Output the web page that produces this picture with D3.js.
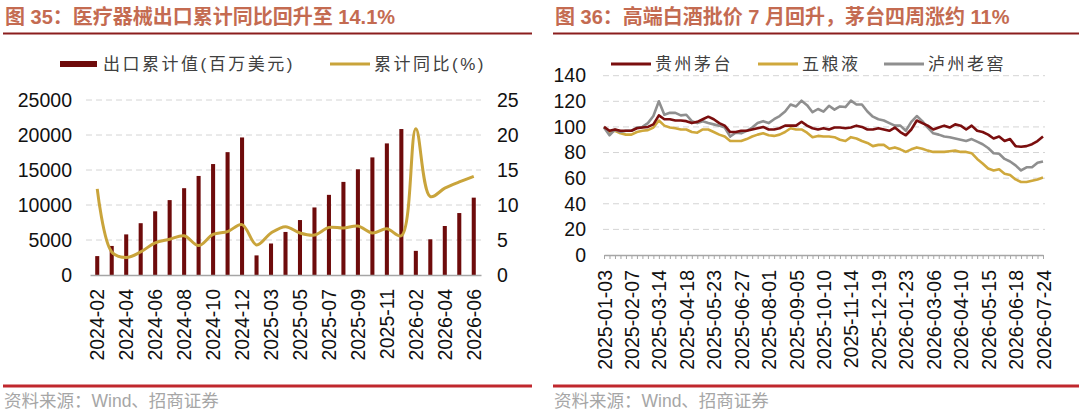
<!DOCTYPE html>
<html>
<head>
<meta charset="utf-8">
<script src="https://cdn.jsdelivr.net/npm/d3@7"></script>
<style>
  body { margin: 0; background: #fff; }
  svg { display: block; }
  text { font-family: "Liberation Sans", Arial, "Noto Sans CJK SC", sans-serif; }
  .cn { font-family: "Liberation Sans", "Noto Sans CJK SC", sans-serif; }
</style>
</head>
<body>
<div id="chart"></div>
<script>
// ---- data: 图35 医疗器械出口
const months = [
  "2024-02", "2024-03", "2024-04", "2024-05", "2024-06", "2024-07", "2024-08",
  "2024-09", "2024-10", "2024-11", "2024-12",
  "2025-02", "2025-03", "2025-04", "2025-05", "2025-06", "2025-07", "2025-08",
  "2025-09", "2025-10", "2025-11", "2025-12",
  "2026-02", "2026-03", "2026-04", "2026-05", "2026-06"
];
const exportValues = [
  2700, 4150, 5800, 7400, 9100, 10700, 12400, 14150, 15850, 17550, 19650,
  2800, 4500, 6150, 7850, 9650, 11450, 13300, 15100, 16800, 18800, 20850,
  3450, 5100, 7000, 8850, 11050
];
const exportYoY = [
  12.3, 3.3, 2.5, 3.3, 4.6, 5.1, 5.6, 4.2, 5.8, 6.2, 7.2,
  4.3, 6.0, 6.9, 6.0, 5.7, 6.8, 6.7, 7.0, 6.0, 6.6, 5.6,
  20.9, 11.2, 12.4, 13.3, 14.1
];
const leftTicks = [0, 5000, 10000, 15000, 20000, 25000];
const rightTicks = [0, 5, 10, 15, 20, 25];

// ---- data: 图36 高端白酒批价
const dateLabels = [
  "2025-01-03", "2025-02-07", "2025-03-14", "2025-04-18", "2025-05-23",
  "2025-06-27", "2025-08-01", "2025-09-05", "2025-10-10", "2025-11-14",
  "2025-12-19", "2026-01-23", "2026-03-06", "2026-04-10", "2026-05-15",
  "2026-06-18", "2026-07-24"
];
const moutai = [
  100, 97, 98, 97, 97, 97, 99, 99.5, 100, 102,
  109, 106, 106, 105, 105, 104.5, 103, 104, 106, 108,
  106, 103, 101, 96, 96, 97, 97, 98, 99, 100,
  98, 98, 99, 101, 101, 101, 104, 101, 99, 98,
  99, 98, 99.5, 99.5, 99, 99.5, 101, 100, 98, 98,
  99, 98, 97, 99.5, 96, 93.5, 98, 105, 103, 101,
  98, 99.5, 101, 99.5, 102, 101, 98, 101, 97, 96,
  94, 91, 92.5, 89, 90.5, 85, 84.5, 85, 86.5, 89,
  92.5
];
const wuliangye = [
  99.5, 96, 97, 95, 94, 94, 96, 97, 97.5, 99.5,
  105, 101, 99.5, 99, 98, 98, 96, 95.5, 98, 98,
  96, 94, 92.5, 89, 89, 89, 90.5, 92.5, 94, 95,
  93.5, 93, 94, 96, 99, 98, 98, 95.5, 92, 93,
  92.5, 92.5, 92, 90, 89, 92, 91, 89, 87.5, 85,
  86, 86, 83, 84, 82.5, 80.5, 82.5, 84, 83, 81.5,
  80.5, 80.5, 80.5, 81, 81.5, 80.5, 80.5, 79.5, 75, 71.5,
  67.5, 66, 67, 63.5, 62.5, 59, 57, 57, 58, 59,
  60.5
];
const luzhou = [
  99.5, 93.5, 98, 96, 97, 97, 99.5, 100, 103, 108.5,
  120, 109.5, 111, 111, 109, 109.5, 104.5, 103, 104.5, 103,
  102, 101, 99.5, 92.5, 95.5, 95, 97, 99.5, 103, 104.5,
  103, 106, 108.5, 112, 117.5, 116, 120.5, 117, 111.5, 114,
  112, 116.5, 113.5, 116, 115.5, 120.5, 117.5, 117.5, 112, 108,
  106, 105, 103, 101, 101, 97, 104, 108.5, 104.5, 99.5,
  95, 94, 92.5, 92, 91, 90, 89, 90.5, 88.5, 86.5,
  83.5, 79.5, 79, 75, 73, 70, 66, 68.5, 68.5, 72,
  73
];
const priceTicks = [0, 20, 40, 60, 80, 100, 120, 140];
const seriesNames = ["贵州茅台", "五粮液", "泸州老窖"];

const titleColor = "#C46B51";
const barColor = "#6E0B0B";
const goldColor = "#C9A43B";
const seriesColors = ["#7A0E0E", "#CFA83C", "#8F8F8F"];
const gridColor = "#D4D4D4";

const svg = d3
  .select("#chart")
  .append("svg")
  .attr("width", 1080)
  .attr("height", 411);

// ---- panel frames: title, rules, source
function panelFrame(x0, x1, title) {
  svg
    .append("text")
    .attr("class", "cn")
    .attr("x", x0 + 2)
    .attr("y", 24)
    .attr("font-size", "20px")
    .attr("font-weight", "bold")
    .attr("fill", titleColor)
    .text(title);

  svg
    .append("line")
    .attr("x1", x0)
    .attr("x2", x1)
    .attr("y1", 33.5)
    .attr("y2", 33.5)
    .attr("stroke", "#8B1E1E")
    .attr("stroke-width", 2);

  svg
    .append("line")
    .attr("x1", x0)
    .attr("x2", x1)
    .attr("y1", 386)
    .attr("y2", 386)
    .attr("stroke", "#C0272D")
    .attr("stroke-width", 3);

  svg
    .append("text")
    .attr("class", "cn")
    .attr("x", x0 + 1)
    .attr("y", 401.5)
    .attr("dy", "0.32em")
    .attr("font-size", "17.5px")
    .attr("fill", "#A6A6A6")
    .text("资料来源：Wind、招商证券");
}

panelFrame(3, 532, "图 35：医疗器械出口累计同比回升至 14.1%");
panelFrame(553, 1079, "图 36：高端白酒批价 7 月回升，茅台四周涨约 11%");

function legendItem(x, y, color, label, asBar) {
  if (asBar) {
    svg.append("rect")
      .attr("x", x).attr("y", y - 3).attr("width", 37).attr("height", 6)
      .attr("fill", color);
  } else {
    svg.append("line")
      .attr("x1", x).attr("x2", x + 40).attr("y1", y).attr("y2", y)
      .attr("stroke", color).attr("stroke-width", 3);
  }
  svg.append("text")
    .attr("class", "cn")
    .attr("x", x + (asBar ? 43 : 44))
    .attr("y", y)
    .attr("dy", "0.36em")
    .attr("font-size", "17px")
    .attr("letter-spacing", "2.5px")
    .attr("fill", "#404040")
    .text(label);
}

// ================= 图35 =================
const xL = d3
  .scaleBand()
  .domain(months)
  .range([90, 481])
  .paddingInner(0.72)
  .paddingOuter(0.36);
const yL = d3.scaleLinear().domain([0, 25000]).range([275, 100]);
const yR = d3.scaleLinear().domain([0, 25]).range([275, 100]);

const left = svg.append("g");

// grid
left
  .append("g")
  .selectAll("line")
  .data(leftTicks.slice(1))
  .enter()
  .append("line")
  .attr("x1", 86)
  .attr("x2", 481)
  .attr("y1", (d) => yL(d))
  .attr("y2", (d) => yL(d))
  .attr("stroke", gridColor)
  .attr("stroke-dasharray", "6,4");

left
  .append("g")
  .selectAll("rect")
  .data(exportValues)
  .enter()
  .append("rect")
  .attr("x", (d, i) => xL(months[i]))
  .attr("y", (d) => yL(d))
  .attr("width", xL.bandwidth())
  .attr("height", (d) => yL(0) - yL(d))
  .attr("fill", barColor);

const yoyLine = d3
  .line()
  .x((d, i) => xL(months[i]) + xL.bandwidth() / 2)
  .y((d) => yR(d))
  .curve(d3.curveCatmullRom.alpha(0.5));

left
  .append("path")
  .datum(exportYoY)
  .attr("d", yoyLine)
  .attr("fill", "none")
  .attr("stroke", goldColor)
  .attr("stroke-width", 3);

// axes
const axisL = left
  .append("g")
  .attr("transform", "translate(72,0)")
  .call(
    d3
      .axisLeft(yL)
      .tickValues(leftTicks)
      .tickFormat(d3.format("d"))
      .tickSize(0)
      .tickPadding(0)
  );
axisL.select(".domain").remove();

const axisR = left
  .append("g")
  .attr("transform", "translate(497,0)")
  .call(d3.axisRight(yR).tickValues(rightTicks).tickSize(0).tickPadding(0));
axisR.select(".domain").remove();

const axisX = left
  .append("g")
  .attr("transform", "translate(0,275)")
  .call(
    d3
      .axisBottom(xL)
      .tickValues(months.filter((d, i) => i % 2 === 0))
      .tickSize(0)
      .tickSizeOuter(0)
  );
axisX.select(".domain").attr("stroke", "#A6A6A6").attr("stroke-width", 1.5);
axisX
  .selectAll("text")
  .attr("transform", "rotate(-90)")
  .attr("x", -14)
  .attr("y", 0)
  .attr("dy", "0.36em")
  .attr("text-anchor", "end");

left
  .selectAll(".tick text")
  .attr("font-size", "19.5px")
  .attr("font-family", "Liberation Sans, Arial, sans-serif")
  .attr("fill", "#111");

legendItem(60, 64, barColor, "出口累计值(百万美元)", true);
legendItem(330, 64, goldColor, "累计同比(%)", false);

// ================= 图36 =================
const nWeeks = moutai.length;
const xP = d3.scaleLinear().domain([0, nWeeks - 1]).range([604, 1043]);
const yP = d3.scaleLinear().domain([0, 140]).range([255, 75.7]);

const right = svg.append("g");

right
  .append("g")
  .selectAll("line")
  .data(priceTicks.slice(1))
  .enter()
  .append("line")
  .attr("x1", 603)
  .attr("x2", 1045)
  .attr("y1", (d) => yP(d))
  .attr("y2", (d) => yP(d))
  .attr("stroke", gridColor)
  .attr("stroke-dasharray", "6,4");

const priceAxisY = right
  .append("g")
  .attr("transform", "translate(586,0)")
  .call(d3.axisLeft(yP).tickValues(priceTicks).tickSize(0).tickPadding(0));
priceAxisY.select(".domain").remove();

const priceAxisX = right
  .append("g")
  .attr("transform", "translate(0,255)")
  .call(
    d3
      .axisBottom(xP)
      .tickValues(d3.range(nWeeks))
      .tickSize(4)
      .tickSizeOuter(0)
      .tickFormat((i) => (i % 5 === 0 ? dateLabels[i / 5] : ""))
  );
priceAxisX.select(".domain").attr("stroke", "#A6A6A6").attr("stroke-width", 1.5);
priceAxisX.selectAll(".tick line").attr("stroke", "#A6A6A6");
priceAxisX
  .selectAll("text")
  .attr("transform", "rotate(-90)")
  .attr("x", -15)
  .attr("y", 0)
  .attr("dy", "0.36em")
  .attr("text-anchor", "end");

right
  .selectAll(".tick text")
  .attr("font-size", "19.5px")
  .attr("font-family", "Liberation Sans, Arial, sans-serif")
  .attr("fill", "#111");

const priceLine = d3
  .line()
  .x((d, i) => xP(i))
  .y((d) => yP(d));

// draw gold first, then grey, then red on top
[[wuliangye, 1], [luzhou, 2], [moutai, 0]].forEach(([values, k]) => {
  right
    .append("path")
    .datum(values)
    .attr("d", priceLine)
    .attr("fill", "none")
    .attr("stroke", seriesColors[k])
    .attr("stroke-width", 2.6)
    .attr("stroke-linejoin", "round");
});

legendItem(611, 64, seriesColors[0], seriesNames[0], false);
legendItem(758, 64, seriesColors[1], seriesNames[1], false);
legendItem(884, 64, seriesColors[2], seriesNames[2], false);
</script>
</body>
</html>
